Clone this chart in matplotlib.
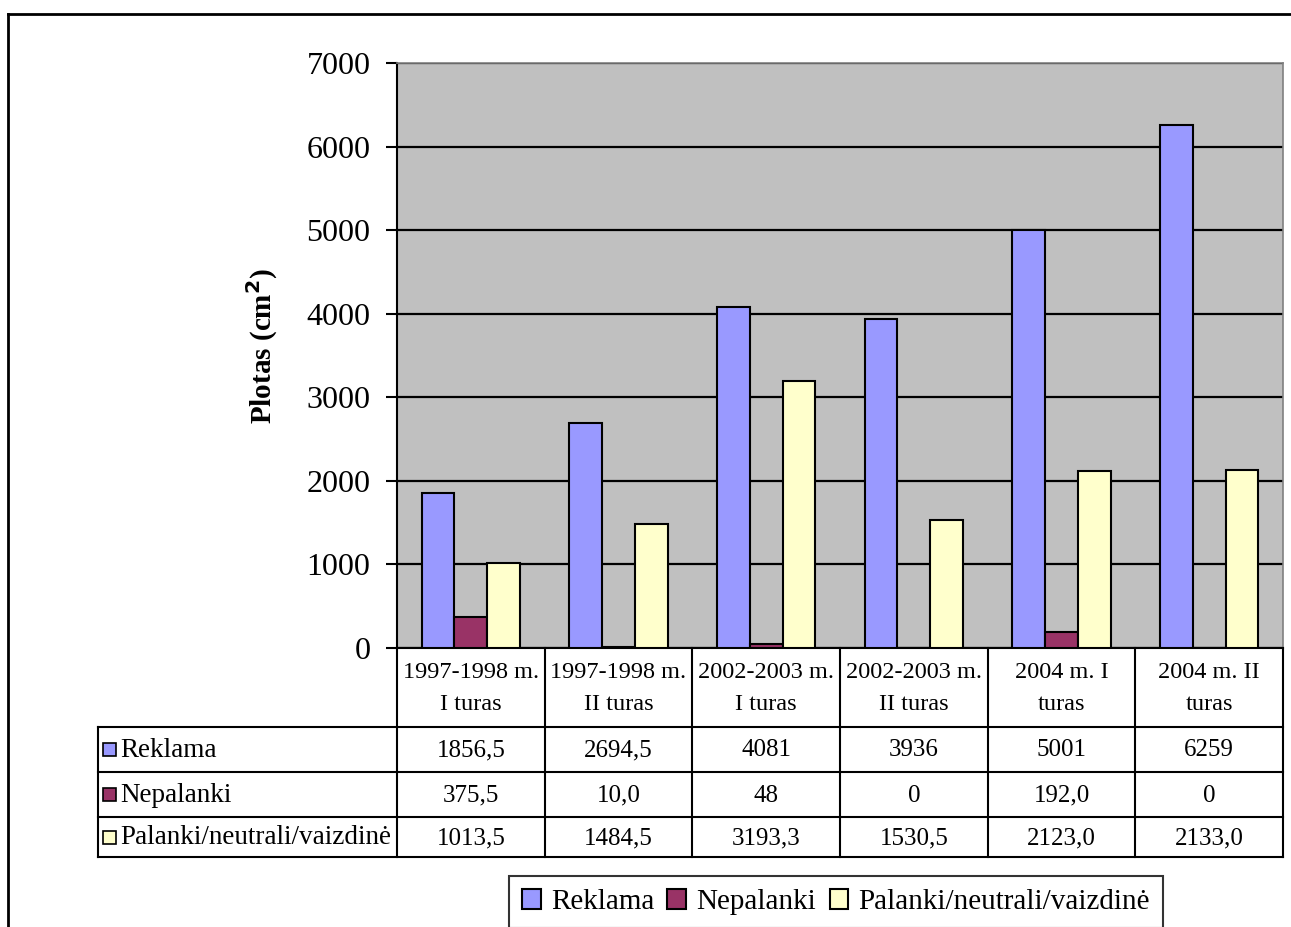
import matplotlib.pyplot as plt
import numpy as np
from matplotlib.patches import Rectangle

# duomenys
kategorijos = ["1997-1998 m.\nI turas", "1997-1998 m.\nII turas", "2002-2003 m.\nI turas",
               "2002-2003 m.\nII turas", "2004 m. I\nturas", "2004 m. II\nturas"]
serijos = ["Reklama", "Nepalanki", "Palanki/neutrali/vaizdinė"]
reklama = ["1856,5", "2694,5", "4081", "3936", "5001", "6259"]
nepalanki = ["375,5", "10,0", "48", "0", "192,0", "0"]
palanki = ["1013,5", "1484,5", "3193,3", "1530,5", "2123,0", "2133,0"]
spalvos = ["#9999FF", "#993366", "#FFFFCC"]

lenteles_eilutes = [reklama, nepalanki, palanki]

plt.rcParams['font.family'] = ['Liberation Serif', 'DejaVu Serif']

W, H = 1291, 927
fig = plt.figure(figsize=(W / 100, H / 100), dpi=100)

# braizymo sritis (pikseliais)
L, R, T, B = 397, 1283, 63, 648
ax = fig.add_axes([L / W, 1 - B / H, (R - L) / W, (B - T) / H])
ax.set_facecolor("#C0C0C0")

x = np.arange(len(kategorijos))
w = 1 / 4.5
for k, (eil, sp) in enumerate(zip(lenteles_eilutes, spalvos)):
    reiksmes = [float(s.replace(",", ".")) for s in eil]
    ax.bar(x + (k - 1) * w, reiksmes, width=w, color=sp, edgecolor="black",
           linewidth=1.5, zorder=3, label=serijos[k])

ax.set_xlim(-0.5, len(kategorijos) - 0.5)
ax.set_ylim(0, 7000)
ax.set_yticks(np.arange(0, 7001, 1000))
ax.yaxis.grid(True, color="black", linewidth=1.6, zorder=1)
ax.set_xticks([])
ax.tick_params(axis="y", direction="out", length=8, width=1.5, pad=11, labelsize=23)
for s in ["top", "right"]:
    ax.spines[s].set_color("#808080")
    ax.spines[s].set_linewidth(1.2)
ax.spines["left"].set_linewidth(1.5)
ax.spines["bottom"].set_linewidth(1.5)

fig.text(262 / W, 1 - 346 / H, r"Plotas (cm$^\mathbf{2}$)", rotation=90, ha="center",
         va="center", fontsize=21, fontweight="bold")

# lentele ir remelis - pikseliu koordinates
ov = fig.add_axes([0, 0, 1, 1], facecolor="none")
ov.set_xlim(0, W)
ov.set_ylim(H, 0)
ov.axis("off")

lw = 1.5
ov.plot([8, 8], [14, H + 5], color="black", lw=2)
ov.plot([8, W + 5], [14, 14], color="black", lw=2)

stulp = np.linspace(L, R, len(kategorijos) + 1)
eil_y = [648, 727, 772, 817, 857]
for xs in stulp:
    ov.plot([xs, xs], [eil_y[0], eil_y[-1]], color="black", lw=lw)
ov.plot([98, 98], [eil_y[1], eil_y[-1]], color="black", lw=lw)
for yy in eil_y[1:]:
    ov.plot([98, R], [yy, yy], color="black", lw=lw)

for i, kat in enumerate(kategorijos):
    cx = (stulp[i] + stulp[i + 1]) / 2
    ov.text(cx, (eil_y[0] + eil_y[1]) / 2 + 1, kat, ha="center", va="center",
            fontsize=17.5, linespacing=1.7)
    for r, eil in enumerate(lenteles_eilutes):
        ov.text(cx, (eil_y[r + 1] + eil_y[r + 2]) / 2 + 1, eil[i], ha="center",
                va="center", fontsize=18)

for r, (pav, sp) in enumerate(zip(serijos, spalvos)):
    yc = (eil_y[r + 1] + eil_y[r + 2]) / 2
    ov.add_patch(Rectangle((103, yc - 6.5), 13, 13, facecolor=sp, edgecolor="black", lw=1.2))
    ov.text(120, yc + 1, pav, ha="left", va="center", fontsize=19.5)

# legenda apacioje
leg = fig.legend(loc="upper center", bbox_to_anchor=(836 / W, 1 - 876 / H), ncol=3,
                 fontsize=21, frameon=True, fancybox=False, edgecolor="black",
                 handlelength=0.65, handleheight=0.65, handletextpad=0.35,
                 columnspacing=0.45, borderpad=0.45, borderaxespad=0)
leg.get_frame().set_linewidth(1.5)

plt.savefig("out.png", dpi=100)
